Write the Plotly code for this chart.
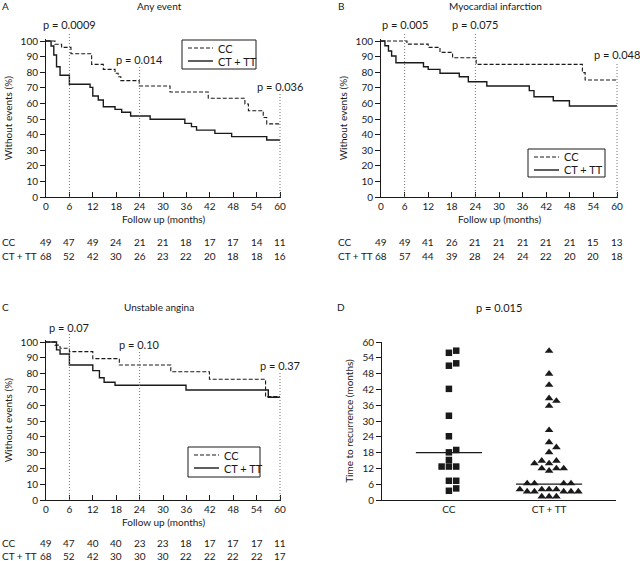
import plotly.graph_objects as go

W, H = 640, 561
def px(x): return x / W
def py(y): return 1 - y / H

FONT = "Lato"
INK = "#1a1a1a"
FS = 10

# ---------------- data ----------------
month_ticks = list(range(0, 61, 6))
group_names = ["CC", "CT + TT"]

# Panel A - Any event (Kaplan-Meier, % without events)
a_cc_t = [0, 2.3, 4.0, 6.4, 11.7, 14.7, 17.7, 18.5, 19.2, 23.9, 31.8, 41.6, 51.0, 51.9, 55.7, 56.6, 60]
a_cc_s = [100, 97.9, 95.9, 91.8, 85.0, 81.8, 79.3, 77.1, 74.6, 71.2, 67.3, 63.3, 59.6, 55.3, 51.0, 46.9, 46.9]
a_ct_t = [0, 1.3, 2.0, 2.7, 3.6, 6.0, 11.3, 12.0, 13.4, 14.7, 17.7, 19.4, 21.7, 26.7, 35.6, 37.3, 38.6, 43.3, 47.6, 56.6, 60]
a_ct_s = [100, 96.8, 91.0, 83.5, 78.0, 72.3, 70.3, 64.7, 62.2, 57.9, 56.2, 54.3, 51.9, 49.8, 47.2, 45.1, 42.9, 40.8, 38.7, 36.5, 36.5]
a_risk_cc = [49, 47, 49, 24, 21, 21, 18, 17, 17, 14, 11]
a_risk_ct = [68, 52, 42, 30, 26, 23, 22, 20, 18, 18, 16]
a_pvals = [(6, "p = 0.0009"), (24, "p = 0.014"), (60, "p = 0.036")]

# Panel B - Myocardial infarction
b_cc_t = [0, 6.6, 12.0, 15.0, 18.2, 24.2, 51.2, 51.9, 60]
b_cc_s = [100, 98.0, 95.9, 92.7, 89.3, 85.0, 79.7, 75.0, 75.0]
b_ct_t = [0, 1.0, 1.9, 2.7, 3.8, 10.8, 12.0, 15.0, 19.9, 22.2, 26.9, 37.7, 38.9, 43.8, 47.9, 60]
b_ct_s = [100, 97.0, 93.6, 90.4, 86.1, 83.5, 81.8, 79.3, 77.1, 73.9, 71.2, 68.2, 64.3, 61.7, 58.3, 58.3]
b_risk_cc = [49, 49, 41, 26, 21, 21, 21, 21, 21, 15, 13]
b_risk_ct = [68, 57, 44, 39, 28, 24, 24, 22, 20, 20, 18]
b_pvals = [(6, "p = 0.005"), (24, "p = 0.075"), (60, "p = 0.048")]

# Panel C - Unstable angina
c_cc_t = [0, 2.3, 3.6, 6.0, 12.0, 18.8, 32.0, 41.9, 56.3, 60]
c_cc_s = [100, 98.0, 96.0, 93.9, 89.5, 85.4, 81.2, 76.4, 65.4, 65.4]
c_ct_t = [0, 2.7, 3.6, 6.0, 12.0, 13.7, 14.9, 17.7, 35.9, 57.0, 60]
c_ct_s = [100, 95.0, 92.4, 85.4, 81.9, 77.4, 74.5, 72.6, 69.6, 65.0, 65.0]
c_risk_cc = [49, 47, 40, 40, 23, 23, 18, 17, 17, 17, 11]
c_risk_ct = [68, 52, 42, 30, 30, 30, 22, 22, 22, 22, 17]
c_pvals = [(6, "p = 0.07"), (24, "p = 0.10"), (60, "p = 0.37")]

# Panel D - time to recurrence (months)
d_cc = [56.7, 55.9, 51.9, 51.0, 42.2, 32.0, 24.2, 19.0, 18.1, 15.2, 12.7, 12.7, 12.7, 7.3, 7.3, 4.4, 3.5]
d_ct = [56.6, 47.9, 43.7, 38.6, 37.6, 35.7, 26.5, 21.9, 20.0, 18.1, 14.9, 14.9, 13.9, 13.9,
        12.0, 12.0, 12.0, 11.1, 6.3, 6.3, 6.3, 6.3, 4.0, 4.0, 4.0, 4.0, 3.2, 3.2, 3.2, 3.2,
        3.2, 1.3, 1.3, 1.3]
d_medians = [18, 6]
d_pval = "p = 0.015"

# ---------------- helpers ----------------
def dom_x(p0, p1, v0, v1, r0, r1):
    k = (p1 - p0) / (v1 - v0)
    return [px(p0 + (r0 - v0) * k), px(p0 + (r1 - v0) * k)]

def dom_y(p0, p1, v0, v1, r0, r1):
    k = (p1 - p0) / (v1 - v0)
    return [py(p0 + (r0 - v0) * k), py(p0 + (r1 - v0) * k)]

def swarm(values, slot, ythr):
    placed = []
    offs = [0.0] * len(values)
    order = sorted(range(len(values)), key=lambda i: values[i])
    for i in order:
        v = values[i]
        for k in [0, 1, -1, 2, -2, 3, -3, 4, -4, 5, -5, 6, -6]:
            if all(not (pk == k and abs(v - pv) < ythr) for pv, pk in placed):
                break
        placed.append((v, k))
        offs[i] = k * slot
    return offs

def text(x, y, s, xref="paper", size=FS, xanchor="center"):
    return dict(x=x, y=y, xref=xref, yref="paper", text=s, showarrow=False,
                xanchor=xanchor, yanchor="middle", font=dict(family=FONT, size=size, color=INK))

fig = go.Figure()

axis_common = dict(showgrid=False, zeroline=False, showline=True, linecolor=INK, linewidth=1,
                   tickcolor=INK, tickfont=dict(family=FONT, size=FS, color=INK), automargin=False)

km_panels = [
    dict(ax="", t=(a_cc_t, a_cc_s, a_ct_t, a_ct_s), risk=(a_risk_cc, a_risk_ct), pv=a_pvals,
         xp=(46, 280), yp=(197, 41), title="Any event", letter="A",
         title_y=6, p_y=[25, 60, 87], risk_y=(242, 256), label_x=0,
         leg=(182, 40, 256, 69)),
    dict(ax="2", t=(b_cc_t, b_cc_s, b_ct_t, b_ct_s), risk=(b_risk_cc, b_risk_ct), pv=b_pvals,
         xp=(381, 617), yp=(197, 41), title="Myocardial infarction", letter="B",
         title_y=6, p_y=[25, 25, 55], risk_y=(242, 256), label_x=336,
         leg=(528, 149, 605, 177)),
    dict(ax="3", t=(c_cc_t, c_cc_s, c_ct_t, c_ct_s), risk=(c_risk_cc, c_risk_ct), pv=c_pvals,
         xp=(46, 280), yp=(500, 342), title="Unstable angina", letter="C",
         title_y=307, p_y=[327, 344, 365], risk_y=(543, 556), label_x=0,
         leg=(188, 447, 260, 477)),
]

annotations = []
shapes = []
layout_axes = {}
DASH = "4px,2px"

for P in km_panels:
    ax = P["ax"]
    xname = "x" + ax
    yname = "y" + ax
    xr = [0, 60.3]
    yr = [0, 101]
    layout_axes["xaxis" + ax] = dict(axis_common, range=xr, domain=dom_x(P["xp"][0], P["xp"][1], 0, 60, *xr),
                                     tickvals=month_ticks, ticks="inside", ticklen=5, anchor=yname,
                                     title=dict(text="Follow up (months)", font=dict(family=FONT, size=FS, color=INK), standoff=4))
    layout_axes["yaxis" + ax] = dict(axis_common, range=yr, domain=dom_y(P["yp"][0], P["yp"][1], 0, 100, *yr),
                                     tickvals=list(range(0, 101, 10)), ticks="outside", ticklen=5, anchor=xname,
                                     title=dict(text="Without events (%)", font=dict(family=FONT, size=FS, color=INK), standoff=6))
    cc_t, cc_s, ct_t, ct_s = P["t"]
    fig.add_trace(go.Scatter(x=cc_t, y=cc_s, mode="lines", line=dict(shape="hv", color=INK, width=1.1, dash=DASH),
                             name=group_names[0], xaxis=xname, yaxis=yname, showlegend=False))
    fig.add_trace(go.Scatter(x=ct_t, y=ct_s, mode="lines", line=dict(shape="hv", color=INK, width=1.4),
                             name=group_names[1], xaxis=xname, yaxis=yname, showlegend=False))
    # p-values with dotted reference lines
    for (m, txt), yy in zip(P["pv"], P["p_y"]):
        annotations.append(text(m, py(yy), txt, xref=xname, size=FS + 1))
        shapes.append(dict(type="line", xref=xname, yref="paper", x0=m, x1=m, y0=py(P["yp"][0]), y1=py(yy + 7),
                           line=dict(color="#777", width=1, dash="1px,2px")))
    # titles
    cx = (P["xp"][0] + P["xp"][1]) / 2
    annotations.append(text(px(cx - 4), py(P["title_y"]), P["title"]))
    annotations.append(text(px(P["label_x"] + 5), py(P["title_y"]), P["letter"]))
    # numbers at risk
    for row, name, yy in zip(P["risk"], group_names, P["risk_y"]):
        annotations.append(text(px(P["label_x"]), py(yy), name, xanchor="left"))
        for m, n in zip(month_ticks, row):
            annotations.append(text(m, py(yy), str(n), xref=xname))
    # legend box (drawn)
    lx0, ly0, lx1, ly1 = P["leg"]
    shapes.append(dict(type="rect", xref="paper", yref="paper", x0=px(lx0), x1=px(lx1), y0=py(ly1), y1=py(ly0),
                       line=dict(color=INK, width=1), fillcolor="white", layer="above"))
    rows_y = [ly0 + 8, ly0 + 21]
    for gi, ry in enumerate(rows_y):
        shapes.append(dict(type="line", xref="paper", yref="paper", x0=px(lx0 + 6), x1=px(lx0 + 31),
                           y0=py(ry), y1=py(ry), layer="above",
                           line=dict(color=INK, width=1.1 if gi == 0 else 1.4, dash=DASH if gi == 0 else "solid")))
        annotations.append(text(px(lx0 + 34), py(ry), group_names[gi], size=FS + 1, xanchor="left"))

# Panel D
xr_d = [0.332, 2.668]
layout_axes["xaxis4"] = dict(axis_common, range=xr_d, domain=[px(382), px(616)], tickvals=[1, 2],
                             ticktext=group_names, ticks="", anchor="y4")
layout_axes["yaxis4"] = dict(axis_common, range=[0, 60], domain=[py(500), py(342)], tickvals=list(range(0, 61, 6)),
                             ticks="outside", ticklen=5, anchor="x4",
                             title=dict(text="Time to recurrence (months)", font=dict(family=FONT, size=FS, color=INK), standoff=6))
slot = 0.073
for gi, (vals, sym, size) in enumerate([(d_cc, "square", 6.5), (d_ct, "triangle-up", 7.5)]):
    offs = swarm(vals, slot, 2.5)
    fig.add_trace(go.Scatter(x=[gi + 1 + o for o in offs], y=vals, mode="markers", xaxis="x4", yaxis="y4",
                             marker=dict(symbol=sym, size=size, color=INK, line=dict(width=0)),
                             showlegend=False, cliponaxis=False))
    fig.add_trace(go.Scatter(x=[gi + 1 - 0.33, gi + 1 + 0.33], y=[d_medians[gi]] * 2, mode="lines",
                             xaxis="x4", yaxis="y4", line=dict(color=INK, width=1.2), showlegend=False))
annotations.append(text(px(499), py(307), d_pval, size=FS + 1))
annotations.append(text(px(341), py(307), "D"))

fig.update_layout(
    width=W, height=H, margin=dict(l=0, r=0, t=0, b=0, autoexpand=False),
    paper_bgcolor="white", plot_bgcolor="white", showlegend=False,
    font=dict(family=FONT, size=FS, color=INK),
    annotations=annotations, shapes=shapes,
    **layout_axes,
)

fig.write_html("out.html", config={"displayModeBar": False, "staticPlot": True},
               post_script="document.body.style.margin='0';document.body.style.overflow='hidden';")
